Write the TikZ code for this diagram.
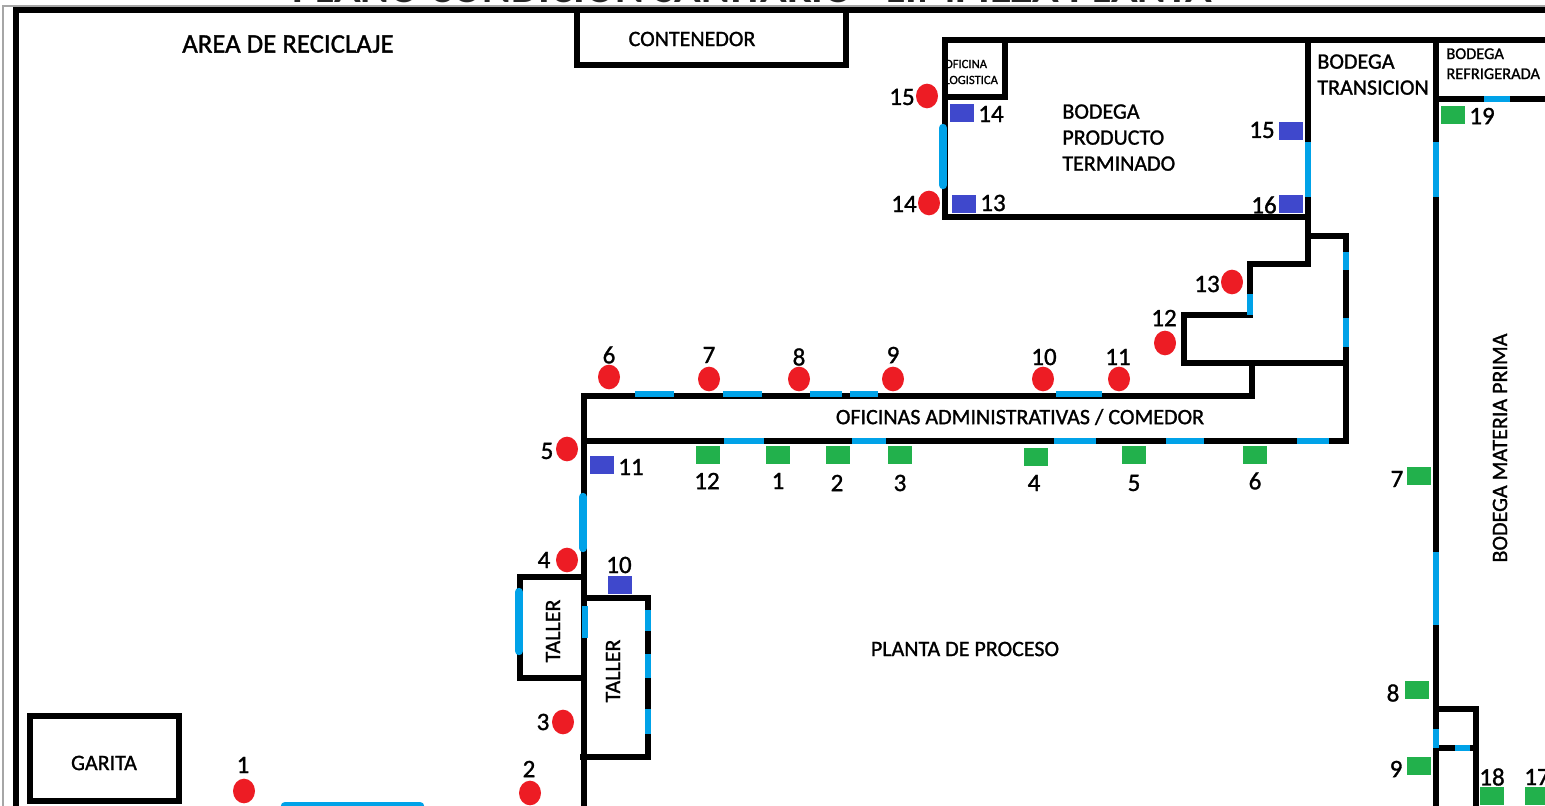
\documentclass[tikz,border=0pt]{standalone}
\usepackage{fontspec}
\setmainfont{Carlito}
\newfontfamily\medfont{Carlito}[FakeBold=1.2]
\definecolor{doorblue}{RGB}{0,162,232}
\definecolor{lampred}{RGB}{237,28,36}
\definecolor{boxblue}{RGB}{63,72,204}
\definecolor{boxgreen}{RGB}{34,177,76}
\tikzset{
	wall/.style={line width=3pt, black},
	door/.style={line width=3pt, draw=doorblue},
	doorfat/.style={line width=4.2pt, draw=doorblue, line cap=round},
	lamp/.style={circle, fill=lampred, inner sep=0pt, minimum width=11pt, yscale=1.12},
	bluebox/.style={fill=boxblue, inner sep=0pt, minimum width=12pt, minimum height=9pt},
	greenbox/.style={fill=boxgreen, inner sep=0pt, minimum width=12pt, minimum height=9pt},
	num/.style={font=\medfont\fontsize{12.5}{13}\selectfont, inner sep=0pt},
	room/.style={font=\medfont\fontsize{11}{13}\selectfont, inner sep=0pt, align=left}
}
\begin{document}
\begin{tikzpicture}[x=0.5pt, y=-0.5pt]
	\useasboundingbox (0, 0) rectangle (1545, 806);
	\clip (0, 0) rectangle (1545, 806);
	% title, cut off by the page
	\node[font=\bfseries\fontsize{22}{24}\selectfont, text=black!85, inner sep=0pt, anchor=base] (title) at (752, 3) {PLANO CONDICION SANITARIO - LIMPIEZA PLANTA};
	% goes under the walls
	\node[room, font=\medfont\fontsize{6.3}{8}\selectfont, anchor=west] (logistica) at (944, 72) {OFICINA\\LOGISTICA};
	% outer frame
	\draw[gray!70, line width=1pt] (3, 830) -- (3, 6) -- (1560, 6);
	\draw[wall] (16, 830) -- (16, 10) -- (1560, 10);
	\draw[wall] (577, 10) -- (577, 65) -- (846, 65) -- (846, 10);
	\draw[wall] (30, 716) rectangle (179, 801);
	% bodega producto terminado
	\draw[wall] (1560, 40) -- (945, 40) -- (945, 217) -- (1308, 217) -- (1308, 40);
	\draw[wall] (945, 97) -- (1005, 97) -- (1005, 40);
	\draw[wall] (1436, 40) -- (1436, 830);
	\draw[wall] (1436, 99) -- (1560, 99);
	% stairs going down
	\draw[wall] (1308, 217) -- (1308, 264) -- (1250, 264) -- (1250, 315) -- (1184, 315) -- (1184, 363) -- (1346, 363);
	\draw[wall] (1308, 236) -- (1346, 236) -- (1346, 441) -- (584, 441);
	\draw[wall] (1252, 363) -- (1252, 396) -- (584, 396) -- (584, 830);
	% talleres
	\draw[wall] (584, 577) -- (520, 577) -- (520, 678) -- (584, 678);
	\draw[wall] (584, 598) -- (648, 598) -- (648, 757) -- (580, 757);
	\draw[wall] (1436, 709) -- (1476, 709) -- (1476, 830);
	\draw[wall] (1436, 748) -- (1476, 748);
	% doors
	\foreach \xa/\xb in {635/674, 723/762, 810/842, 850/878, 1056/1102}
		\draw[door] (\xa, 394) -- (\xb, 394);
	\foreach \xa/\xb in {724/764, 852/886, 1054/1096, 1166/1204, 1297/1329}
		\draw[door] (\xa, 441) -- (\xb, 441);
	\foreach \ya/\yb in {252/270, 318/347}
		\draw[door] (1346, \ya) -- (1346, \yb);
	\foreach \ya/\yb in {610/631, 654/678, 709/734}
		\draw[door] (648, \ya) -- (648, \yb);
	\foreach \xx/\ya/\yb in {585/606/638, 1308/142/197, 1436/142/197, 1436/552/625, 1436/729/748, 1250/294/315}
		\draw[door] (\xx, \ya) -- (\xx, \yb);
	\draw[door] (1484, 99) -- (1510, 99);
	\draw[door] (1455, 748) -- (1470, 748);
	\draw[doorfat] (943, 128) -- (943, 185);
	\draw[doorfat] (583, 497) -- (583, 548);
	\draw[doorfat] (519, 592) -- (519, 651);
	\draw[doorfat] (285, 806) -- (420, 806);
	% red lamps
	\foreach \name/\px/\py/\lx/\ly in {1/244/791/243/765, 2/530/793/529/769, 3/563/722/543/722, 4/567/560/544/560, 5/567/449/547/451, 6/609/377/609/355, 7/709/379/709/355, 8/799/379/799/357, 9/893/379/893/355, 10/1043/379/1044/357, 11/1119/379/1118/357, 12/1165/343/1164/318, 13/1232/282/1207/284, 14/929/203/904/204, 15/927/96/902/97}
		\node[lamp] (lamp\name) at (\px, \py) {} (\lx, \ly) node[num] {\name};
	% blue boxes
	\foreach \name/\px/\py/\lx/\ly in {10/620/585/619/565, 11/602/465/631/467, 13/964/204/993/203, 14/962/113/991/114, 15/1291/131/1262/130, 16/1291/204/1264/205}
		\node[bluebox] (blue\name) at (\px, \py) {} (\lx, \ly) node[num] {\name};
	% green boxes
	\foreach \name/\px/\py/\lx/\ly in {12/708/455/707/481, 1/778/455/778/481, 2/838/455/837/483, 3/900/455/900/483, 4/1036/457/1034/483, 5/1134/455/1134/483, 6/1255/455/1255/481, 7/1419/476/1397/479, 8/1417/690/1393/693, 9/1419/766/1396/769, 18/1492/796/1492/777, 17/1537/796/1537/777, 19/1453/115/1482/116}
		\node[greenbox] (green\name) at (\px, \py) {} (\lx, \ly) node[num] {\name};
	% room names
	\node[room, font=\medfont\fontsize{13.4}{14}\selectfont] (reciclaje) at (288, 44) {AREA DE RECICLAJE};
	\node[room] (contenedor) at (692, 39) {CONTENEDOR};
	\node[room, anchor=north west] (terminado) at (1062, 104) {BODEGA\\PRODUCTO\\TERMINADO};
	\node[room, anchor=north west] (transicion) at (1317, 54) {BODEGA\\TRANSICION};
	\node[room, font=\medfont\fontsize{8.2}{10}\selectfont, anchor=north west] (refrigerada) at (1446, 48) {BODEGA\\REFRIGERADA};
	\node[room] (oficinas) at (1020, 417) {OFICINAS ADMINISTRATIVAS / COMEDOR};
	\node[room] (planta) at (965, 649) {PLANTA DE PROCESO};
	\node[room, rotate=90] (materia) at (1500, 448) {BODEGA MATERIA PRIMA};
	\node[room, rotate=90] (taller1) at (553, 631) {TALLER};
	\node[room, rotate=90] (taller2) at (613, 671) {TALLER};
	\node[room] (garita) at (104, 763) {GARITA};
\end{tikzpicture}
\end{document}
